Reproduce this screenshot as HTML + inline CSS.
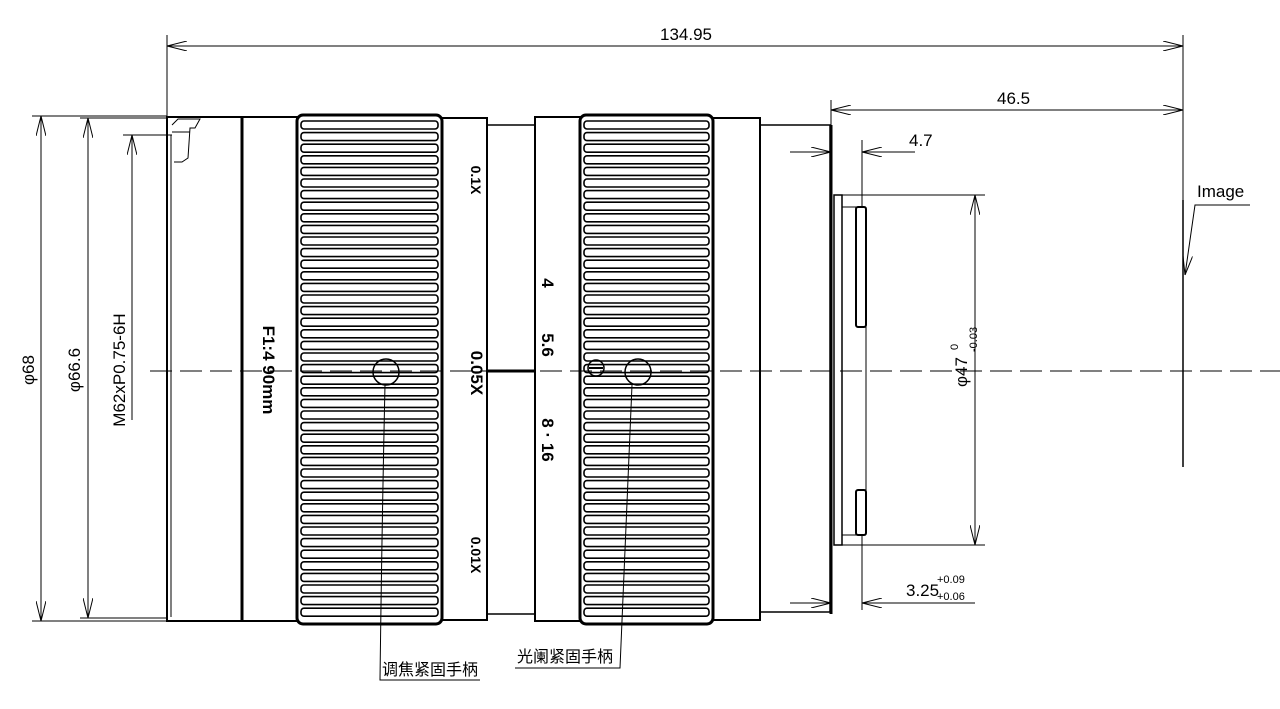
<!DOCTYPE html>
<html><head><meta charset="utf-8"><style>
html,body{margin:0;padding:0;background:#fff;}
svg{display:block;}
text{font-family:"Liberation Sans","Noto Sans CJK SC",sans-serif;}
.dim{font-family:"Liberation Sans Narrow","Liberation Sans",sans-serif;font-size:17px;}
</style></head><body>
<svg id="s" width="1280" height="709" viewBox="0 0 1280 709" xmlns="http://www.w3.org/2000/svg">
<defs>
<marker id="a" viewBox="0 0 20 10" refX="20" refY="5" markerWidth="20" markerHeight="10" markerUnits="userSpaceOnUse" orient="auto-start-reverse"><path d="M0,0 L20,5 L0,10" fill="none" stroke="#000" stroke-width="1"/></marker>
</defs>
<g stroke="#000" fill="none">
<line x1="150" y1="371" x2="1280" y2="371" stroke-width="1" stroke-dasharray="22,8"/>
<rect x="167" y="117" width="75" height="504" stroke-width="2"/>
<line x1="242" y1="117" x2="242" y2="621" stroke-width="3"/>
<line x1="171" y1="135" x2="171" y2="617" stroke-width="1"/>
<path d="M172,125 L178,119 L200,119 L195,128 L190,128 L188,158 L182,162 L174,162" stroke-width="1"/>
<path d="M172,132 L190,132" stroke-width="1"/>
<rect x="242" y="117" width="55" height="504" stroke-width="2"/>
<rect x="442" y="118" width="45" height="502" stroke-width="2"/>
<rect x="487" y="125" width="48" height="489" stroke-width="1.5"/>
<line x1="487" y1="371" x2="535" y2="371" stroke-width="3"/>
<rect x="535" y="117" width="45" height="504" stroke-width="2"/>
<rect x="713" y="118" width="47" height="502" stroke-width="2"/>
<rect x="760" y="125" width="70" height="487" stroke-width="1.5"/>
<rect x="297" y="115" width="145" height="509" rx="6" stroke-width="3"/>
<rect x="580" y="115" width="133" height="509" rx="6" stroke-width="3"/>
<g id="k1"></g>
<line x1="831" y1="100" x2="831" y2="125" stroke-width="1"/>
<line x1="831" y1="125" x2="831" y2="614" stroke-width="3"/>
<rect x="834" y="195" width="8" height="350" stroke-width="1.5"/>
<path d="M842,207 L866,207 M842,535 L866,535 M866,207 L866,535" stroke-width="1"/>
<rect x="856" y="207" width="10" height="120" rx="2" stroke-width="2"/>
<rect x="856" y="490" width="10" height="45" rx="2" stroke-width="2"/>
<line x1="836" y1="195" x2="985" y2="195" stroke-width="1"/>
<line x1="836" y1="545" x2="985" y2="545" stroke-width="1"/>
<circle cx="386" cy="372" r="13" stroke-width="1.5"/>
<circle cx="638" cy="372" r="13" stroke-width="1.5"/>
<circle cx="596" cy="368" r="8" stroke-width="1.5"/>
<line x1="589" y1="368" x2="603" y2="368" stroke-width="2"/>
<path d="M385,385 Q382,520 380,680 L480,680" stroke-width="1"/>
<path d="M632,385 Q626,520 620,668 L515,668" stroke-width="1"/>
<line x1="1183" y1="200" x2="1183" y2="467" stroke-width="1.5"/>
<path d="M1250,205 L1195,205 L1185,275" stroke-width="1" marker-end="url(#a)"/>
<g stroke-width="1">
<line x1="167" y1="35" x2="167" y2="117"/>
<line x1="1183" y1="35" x2="1183" y2="200"/>
<line x1="167" y1="46" x2="1183" y2="46" marker-start="url(#a)" marker-end="url(#a)"/>
<line x1="831" y1="110" x2="1183" y2="110" marker-start="url(#a)" marker-end="url(#a)"/>
<line x1="862" y1="140" x2="862" y2="207"/>
<line x1="790" y1="152" x2="831" y2="152" marker-end="url(#a)"/>
<line x1="915" y1="152" x2="862" y2="152" marker-end="url(#a)"/>
<line x1="975" y1="195" x2="975" y2="545" marker-start="url(#a)" marker-end="url(#a)"/>
<line x1="862" y1="535" x2="862" y2="610"/>
<line x1="790" y1="603" x2="831" y2="603" marker-end="url(#a)"/>
<line x1="975" y1="603" x2="862" y2="603" marker-end="url(#a)"/>
<line x1="32" y1="116" x2="167" y2="116"/>
<line x1="32" y1="621" x2="167" y2="621"/>
<line x1="41" y1="116" x2="41" y2="621" marker-start="url(#a)" marker-end="url(#a)"/>
<line x1="80" y1="118" x2="167" y2="118"/>
<line x1="80" y1="618" x2="167" y2="618"/>
<line x1="88" y1="118" x2="88" y2="618" marker-start="url(#a)" marker-end="url(#a)"/>
<line x1="123" y1="135" x2="172" y2="135"/>
<line x1="132" y1="135" x2="132" y2="420" marker-start="url(#a)"/>
</g>
</g>
<g fill="#000">
<text class="dim" x="660" y="40">134.95</text>
<text class="dim" x="997" y="104">46.5</text>
<text class="dim" x="909" y="146">4.7</text>
<text class="dim" x="1197" y="197">Image</text>
<text class="dim" x="906" y="596">3.25</text>
<text x="937" y="583" style="font-size:11px">+0.09</text>
<text x="937" y="600" style="font-size:11px">+0.06</text>
<text class="dim" transform="translate(34,370) rotate(-90)" text-anchor="middle">φ68</text>
<text class="dim" transform="translate(80,370) rotate(-90)" text-anchor="middle">φ66.6</text>
<text class="dim" transform="translate(125,370) rotate(-90)" text-anchor="middle">M62xP0.75-6H</text>
<text class="dim" transform="translate(967,372) rotate(-90)" text-anchor="middle">φ47</text>
<text transform="translate(958,350) rotate(-90)" style="font-size:11px">0</text>
<text transform="translate(977,352) rotate(-90)" style="font-size:11px">-0.03</text>
<g style="font-size:17px;font-weight:bold">
<text transform="translate(263,370) rotate(90)" text-anchor="middle">F1:4  90mm</text>
<text transform="translate(471,180) rotate(90)" text-anchor="middle" style="font-size:14px">0.1X</text>
<text transform="translate(471,373) rotate(90)" text-anchor="middle">0.05X</text>
<text transform="translate(471,555) rotate(90)" text-anchor="middle" style="font-size:14px">0.01X</text>
<text transform="translate(542,283) rotate(90)" text-anchor="middle">4</text>
<text transform="translate(542,345) rotate(90)" text-anchor="middle">5.6</text>
<text transform="translate(542,440) rotate(90)" text-anchor="middle">8 · 16</text>
</g>
<text x="382" y="675" style="font-size:16px">调焦紧固手柄</text>
<text x="517" y="662" style="font-size:16px">光阑紧固手柄</text>
</g>
</svg>
<script>
var g=document.getElementById('k1'),h='';
function knurl(x1,x2){for(var y=121;y<616;y+=11.6){h+='<rect x="'+(x1+2)+'" y="'+y.toFixed(1)+'" width="'+(x2-x1-4)+'" height="8" rx="3" stroke-width="1.6"/>';}}
knurl(299,440);knurl(582,711);
g.innerHTML=h;
</script>
</body></html>
